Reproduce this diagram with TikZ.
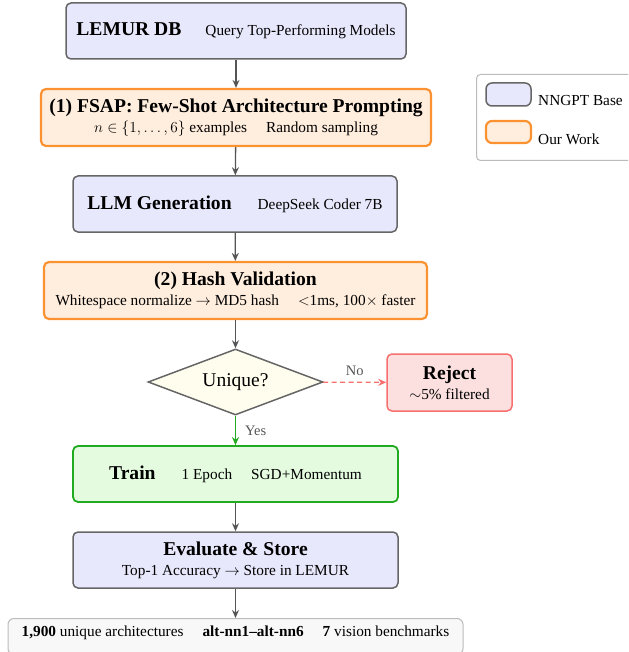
\RequirePackage{fix-cm}
\documentclass[tikz,border=0pt]{standalone}
\usepackage{fontspec}
\setmainfont{Liberation Serif}
\usetikzlibrary{arrows.meta,shapes.geometric}
\definecolor{basefill}{HTML}{E8E8FC}
\definecolor{baseline}{HTML}{666666}
\definecolor{ourfill}{HTML}{FFEEDD}
\definecolor{ourline}{HTML}{FA9232}
\definecolor{trainfill}{HTML}{E4FBE0}
\definecolor{trainline}{HTML}{22AA22}
\definecolor{rejfill}{HTML}{FCE0E0}
\definecolor{rejline}{HTML}{F77070}
\definecolor{decfill}{HTML}{FFFDEE}
\definecolor{arrowgray}{HTML}{555555}
\definecolor{botfill}{HTML}{F8F8F8}
\definecolor{botline}{HTML}{BBBBBB}
\newcommand{\ttl}[1]{{\fontsize{19.6}{22}\selectfont\bfseries #1}}
\newcommand{\sbt}[1]{{\fontsize{15.3}{20}\selectfont #1}}
\newcommand{\gapp}{\hspace{19pt}}
\tikzset{
  boxcommon/.style={rounded corners=5pt, inner sep=0pt, align=center, font=\fontsize{15.3}{20}\selectfont},
  basebox/.style={boxcommon, draw=baseline, fill=basefill, line width=1.5pt},
  ourbox/.style={boxcommon, draw=ourline, fill=ourfill, line width=2.2pt},
  trainbox/.style={boxcommon, draw=trainline, fill=trainfill, line width=1.8pt},
  rejbox/.style={boxcommon, draw=rejline, fill=rejfill, line width=1.5pt},
  decbox/.style={diamond, aspect=2.65, draw=baseline, fill=decfill, line width=1.5pt, inner sep=0pt},
  flow/.style={draw=arrowgray, line width=1.3pt, -{Stealth[length=8pt,width=7pt]}},
  lbl/.style={text=arrowgray, font=\fontsize{14.5}{16}\selectfont, inner sep=0pt},
}
\begin{document}
\begin{tikzpicture}[x=1pt,y=-1pt]
\useasboundingbox (0,0) rectangle (628,652);
\clip (0,0) rectangle (628,652);
% main column
\node[basebox, minimum width=340pt, minimum height=56pt] (lemur) at (236,31)
  {\ttl{LEMUR DB}\hspace{24pt}\sbt{Query Top-Performing Models}};
\node[ourbox, minimum width=390pt, minimum height=57pt] (fsap) at (236,117.5)
  {\ttl{(1) FSAP: Few-Shot Architecture Prompting}\\
   \sbt{$n\in\{1,\dots,6\}$ examples\gapp Random sampling}};
\node[basebox, minimum width=324pt, minimum height=56pt] (llm) at (235,204)
  {\ttl{LLM Generation}\hspace{26pt}\sbt{DeepSeek Coder 7B}};
\node[ourbox, minimum width=383pt, minimum height=57pt] (hash) at (235.5,290.5)
  {\ttl{(2) Hash Validation}\\
   \sbt{Whitespace normalize $\rightarrow$ MD5 hash\gapp $<$1ms, 100$\times$ faster}};
\node[decbox, minimum width=175pt, minimum height=66pt] (uniq) at (235.5,382)
  {\fontsize{19.5}{22}\selectfont Unique?};
\node[rejbox, minimum width=125pt, minimum height=57pt] (rej) at (449.5,382.5)
  {\ttl{Reject}\\\sbt{$\sim$5\% filtered}};
\node[trainbox, minimum width=325pt, minimum height=56pt] (train) at (235.5,474)
  {\ttl{Train}\hspace{26pt}\sbt{1 Epoch\gapp SGD+Momentum}};
\node[basebox, minimum width=325pt, minimum height=56pt] (eval) at (235.5,560)
  {\ttl{Evaluate \& Store}\\\sbt{Top-1 Accuracy $\rightarrow$ Store in LEMUR}};
\node[draw=botline, fill=botfill, line width=1pt, rounded corners=6pt, inner sep=0pt,
      minimum width=455pt, minimum height=36pt, anchor=north] (bot) at (235.5,618) {};
\node[inner sep=0pt] (bottxt) at (235.5,633)
  {\sbt{\textbf{1,900} unique architectures\gapp \textbf{alt-nn1--alt-nn6}\gapp \textbf{7} vision benchmarks}};
% arrows
\draw[flow] (lemur) -- (fsap);
\draw[flow] (fsap) -- (llm);
\draw[flow] (llm) -- (hash);
\draw[flow] (hash) -- (uniq);
\draw[flow, draw=trainline] (uniq) -- node[lbl, anchor=west, xshift=9pt] (yes) {Yes} (train);
\draw[flow, draw=rejline, dash pattern=on 5pt off 3.5pt] (uniq) -- node[lbl, anchor=south, yshift=6pt] (no) {No} (rej);
\draw[flow] (train) -- (eval);
\draw[flow] (eval) -- (bot);
% legend
\node[draw=botline, fill=white, line width=1pt, rounded corners=4pt, minimum width=170pt, minimum height=86pt, anchor=north west] (legend) at (476,74) {};
\node[basebox, minimum width=45pt, minimum height=23pt, rounded corners=6pt] (lgbase) at (508.5,94.5) {};
\node[ourbox, minimum width=45pt, minimum height=22pt, rounded corners=6pt] (lgour) at (508.5,132) {};
\node[anchor=west, inner sep=0pt] (lgbaset) at (538,101) {\sbt{NNGPT Base}};
\node[anchor=west, inner sep=0pt] (lgourt) at (538,139) {\sbt{Our Work}};
\end{tikzpicture}
\end{document}
